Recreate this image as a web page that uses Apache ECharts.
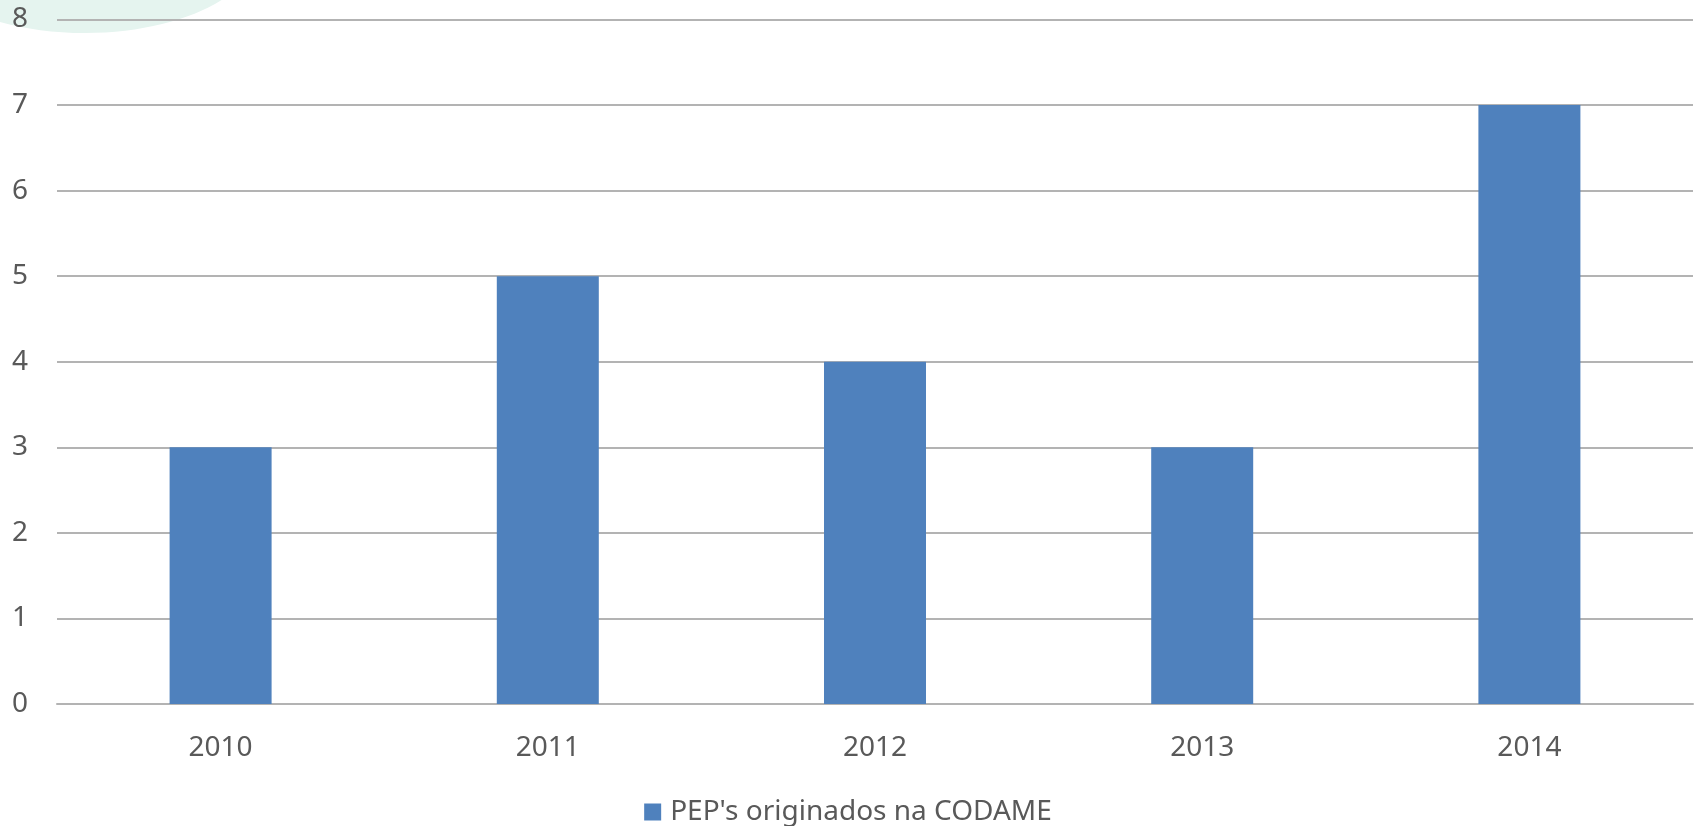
<!DOCTYPE html>
<html>
<head>
<meta charset="utf-8">
<script src="https://cdn.jsdelivr.net/npm/echarts@6/dist/echarts.min.js"></script>
<style>html,body{margin:0;padding:0;background:#fff;}#c{width:1696px;height:826px;}</style>
</head>
<body>
<div id="c"></div>
<script>
var categories = ['2010', '2011', '2012', '2013', '2014'];
var values = [3, 5, 4, 3, 7];
var seriesName = "PEP's originados na CODAME";
var yTicks = { min: 0, max: 8, interval: 1 };

var chart = echarts.init(document.getElementById('c'), null, { renderer: 'canvas' });
var textColor = '#595959';
var font = 'Noto Sans';
chart.setOption({
  animation: false,
  backgroundColor: '#ffffff',
  graphic: [{
    type: 'ellipse',
    z: -10,
    silent: true,
    shape: { cx: 85, cy: -55, rx: 175, ry: 88 },
    style: { fill: '#e5f4ef' }
  }],
  grid: { left: 57, right: 3, top: 19.5, bottom: 122, containLabel: false },
  legend: {
    top: 793,
    left: 'center',
    itemWidth: 17,
    itemHeight: 17,
    itemGap: 10,
    icon: 'rect',
    textStyle: { color: textColor, fontSize: 28, fontFamily: font, padding: [0, 0, 0, 4] },
    data: [seriesName]
  },
  xAxis: {
    type: 'category',
    data: categories,
    axisTick: { show: false },
    axisLine: { show: true, lineStyle: { color: '#b3b3b3', width: 2 } },
    axisLabel: { color: textColor, fontSize: 28, fontFamily: font, margin: 30 }
  },
  yAxis: {
    type: 'value',
    min: yTicks.min,
    max: yTicks.max,
    interval: yTicks.interval,
    axisLine: { show: false },
    axisTick: { show: false },
    axisLabel: { color: textColor, fontSize: 28, fontFamily: font, margin: 37, align: 'center' },
    splitLine: { lineStyle: { color: '#b3b3b3', width: 2 } }
  },
  series: [{
    name: seriesName,
    type: 'bar',
    data: values,
    barWidth: 102,
    itemStyle: { color: '#4f81bd' }
  }]
});
</script>
</body>
</html>
